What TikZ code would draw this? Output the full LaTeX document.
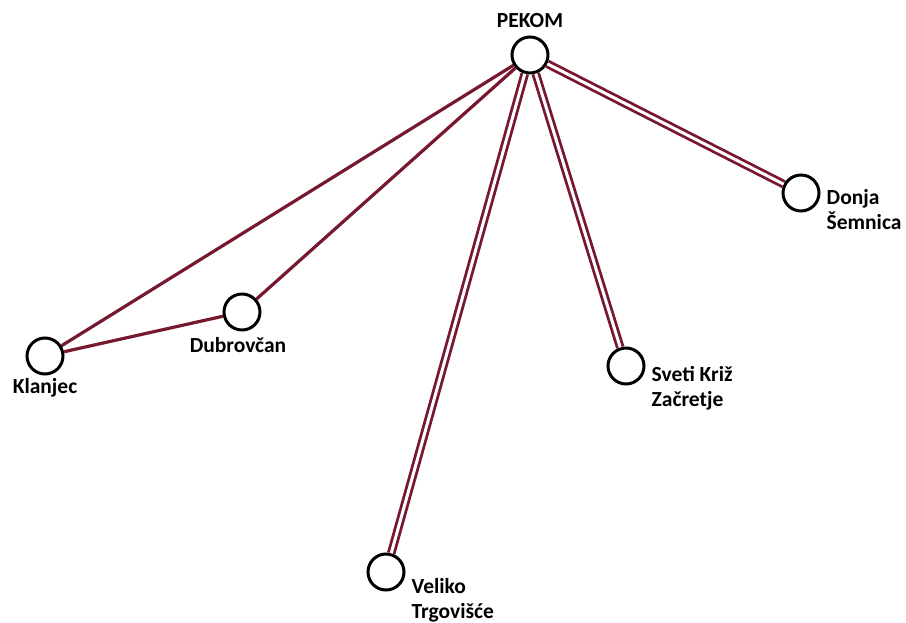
\documentclass[tikz,border=0pt]{standalone}
\usepackage{fontspec}
\setmainfont{Carlito}
\usetikzlibrary{positioning}
\definecolor{cline}{RGB}{118,24,46}
\tikzset{netmap/.style={x=1pt,y=-1pt},
  stn/.style={circle,draw=black,fill=white,line width=3pt,minimum size=36pt,inner sep=0pt},
  lbl/.style={inner sep=0pt,align=left,font=\bfseries\fontsize{21.5}{25}\selectfont},
  link/.style={draw=cline,line width=3.2pt},
  dlink/.style={draw=cline,line width=2.8pt,double=white,double distance=3pt}}

\begin{document}
\begin{tikzpicture}[netmap]
    \useasboundingbox (0,0) rectangle (906,623);
    \node[stn] (pekom) at (530,55) {};
    \node[stn] (klanjec) at (45,356) {};
    \node[stn] (dubrovcan) at (242,312) {};
    \node[stn] (sveti) at (626,366) {};
    \node[stn] (veliko) at (386,572) {};
    \node[stn] (donja) at (801,193) {};
    % single lines
    \draw[link] (pekom) -- (klanjec);
    \draw[link] (pekom) -- (dubrovcan);
    \draw[link] (klanjec) -- (dubrovcan);
    % double lines
    \draw[dlink] (pekom) -- (donja);
    \draw[dlink] (pekom) -- (sveti);
    \draw[dlink] (pekom) -- (veliko);
    \node[lbl,above=8pt of pekom] (pekomlbl) {PEKOM};
    \node[lbl,below=3pt of klanjec] (klanjeclbl) {Klanjec};
    \node[lbl,below=6pt of dubrovcan,xshift=-4pt] (dubrovcanlbl) {Dubrovčan};
    \node[lbl,anchor=north west] (svetilbl) at ([xshift=6pt]sveti.east) {Sveti Križ\\Začretje};
    \node[lbl,anchor=north west] (velikolbl) at ([xshift=6pt,yshift=-6pt]veliko.east) {Veliko\\Trgovišće};
    \node[lbl,anchor=north west] (donjalbl) at ([xshift=6pt,yshift=4pt]donja.east) {Donja\\Šemnica};
\end{tikzpicture}
\end{document}
